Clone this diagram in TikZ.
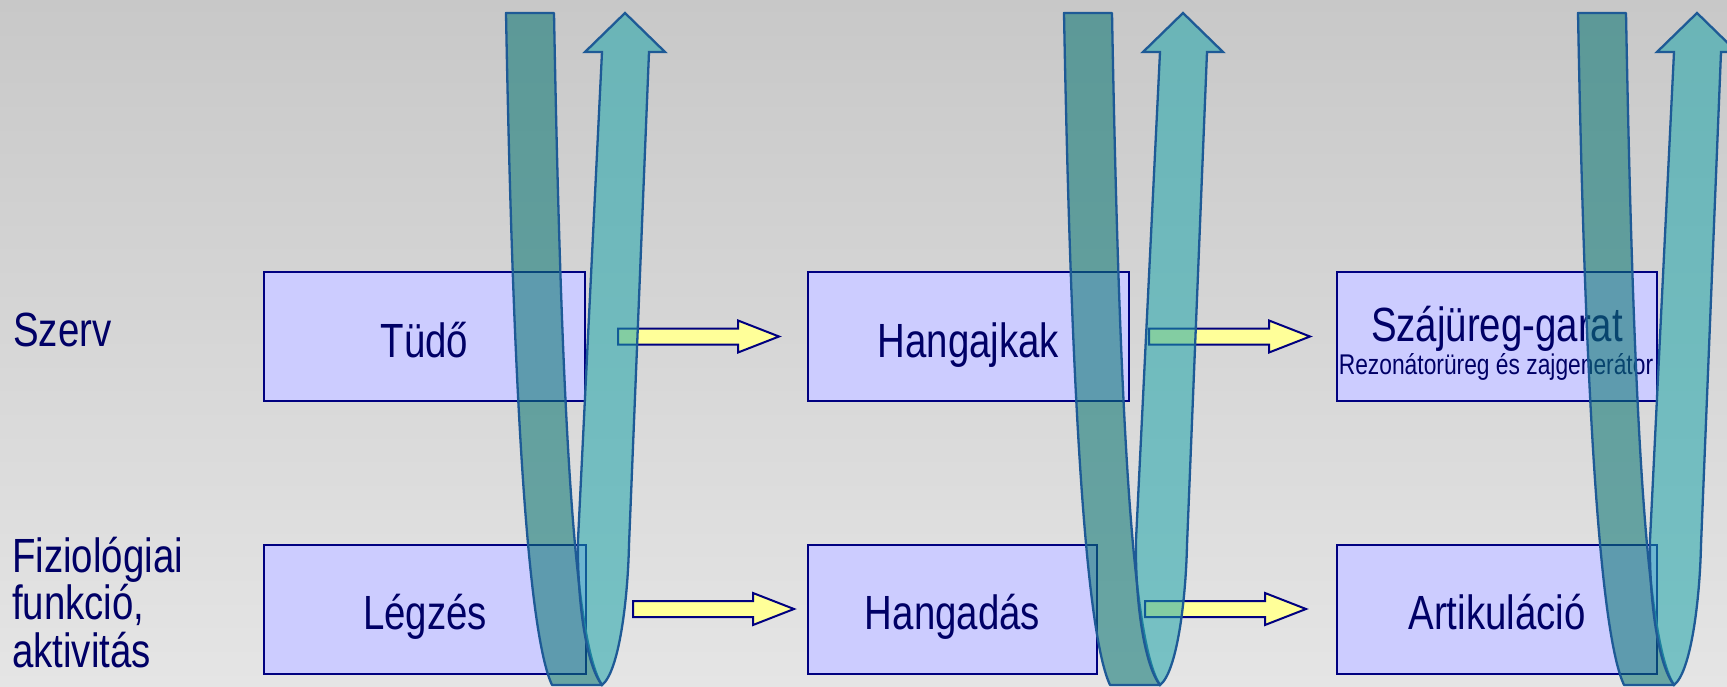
\documentclass[tikz,border=0pt]{standalone}
\usepackage{fontspec}
\setmainfont{Liberation Sans}[FakeStretch=0.8]
\usetikzlibrary{calc}
\definecolor{boxfill}{RGB}{204,204,255}
\definecolor{navyb}{RGB}{0,0,128}
\definecolor{txtc}{RGB}{0,0,102}
\definecolor{yelc}{RGB}{255,255,153}
\definecolor{backc}{RGB}{15,120,117}
\definecolor{frontc}{RGB}{30,165,170}
\definecolor{ulinec}{RGB}{30,90,150}
\definecolor{bgtop}{RGB}{200,200,200}
\definecolor{bgbot}{RGB}{229,229,229}
\tikzset{
  boxst/.style={draw=navyb,line width=2pt,fill=boxfill,inner sep=0pt,text=txtc,
    font=\fontsize{48}{56}\selectfont,text height=41pt,text depth=0pt,minimum height=129pt},
  lblst/.style={text=txtc,font=\fontsize{48}{56}\selectfont,inner sep=0pt,anchor=base west},
  yarrowst/.style={draw=navyb,line width=2pt,fill=yelc,line join=miter},
  ubackst/.style={draw=ulinec,line width=2.3pt,fill=backc,fill opacity=0.58,line join=round},
  ufrontst/.style={draw=ulinec,line width=2.3pt,fill=frontc,fill opacity=0.55,line join=miter},
  yarr/.pic={\draw[yarrowst] (0,-8) -- (120,-8) -- (120,-16) -- (161,0) -- (120,16) -- (120,8) -- (0,8) -- cycle;},
  uturn/.pic={
    \path[ubackst] (0,13) -- (48,13) .. controls (56,450) and (70,645) .. (96,685) -- (46,685) .. controls (25,640) and (8,450) .. (0,13) -- cycle;
    \path[ufrontst] (96,685) .. controls (113,672) and (121.8,600) .. (123,545) -- (143,52) -- (159,52) -- (119,13) -- (79,52) -- (96,52) -- (72,540) .. controls (71,600) and (80,665) .. (96,685) -- cycle;
  }
}
\begin{document}
\begin{tikzpicture}[x=1pt,y=-1pt]
\useasboundingbox (0,0) rectangle (1727,687);
\fill[top color=bgtop,bottom color=bgbot] (0,0) rectangle (1727,687);
% row labels
\node[lblst] (lszerv) at (13,346) {Szerv};
\node[lblst] (lfun1) at (12,572) {Fiziológiai};
\node[lblst] (lfun2) at (12,619.5) {funkció,};
\node[lblst] (lfun3) at (12,667) {aktivitás};
% boxes
\node[boxst,minimum width=321pt] (b1) at (424.5,336.5) {Tüdő};
\node[boxst,minimum width=321pt] (b2) at (968.5,336.5) {Hangajkak};
\node[boxst,minimum width=320pt,text height=22pt,text depth=13pt] (b3) at (1497,336.5) {Szájüreg-garat};
\node[text=txtc,inner sep=0pt,anchor=base,font=\fontsize{28.5}{32}\selectfont] (b3sub) at (1496,374) {Rezonátorüreg és zajgenerátor};
\node[boxst,minimum width=322pt] (b4) at (425,609) {Légzés};
\node[boxst,minimum width=289pt] (b5) at (952.5,609) {Hangadás};
\node[boxst,minimum width=320pt] (b6) at (1497,609) {Artikuláció};
% yellow block arrows
\pic at ($(b1.east)+(32,0)$) {yarr};
\pic at ($(b2.east)+(19,0)$) {yarr};
\pic at ($(b4.east)+(46,0)$) {yarr};
\pic at ($(b5.east)+(47,0)$) {yarr};
% U-turn arrows
\pic at (506,0) {uturn};
\pic at (1064,0) {uturn};
\pic at (1578,0) {uturn};
\end{tikzpicture}
\end{document}
